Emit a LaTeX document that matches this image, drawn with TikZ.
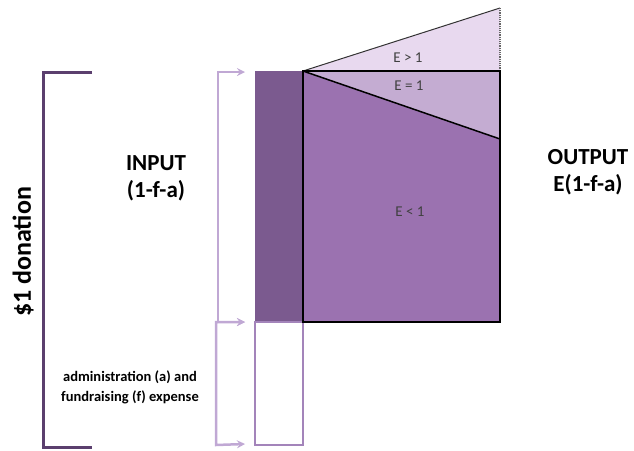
\documentclass[tikz,border=0pt]{standalone}
\usepackage{fontspec}
\setmainfont{Carlito}
\usepackage{xcolor}
\usetikzlibrary{positioning, arrows}

\definecolor{inpurple}{HTML}{7B5A8F}
\definecolor{outpurple}{HTML}{9B72B0}
\definecolor{eqpurple}{HTML}{C4ACD2}
\definecolor{gtpurple}{HTML}{E8D9EF}
\definecolor{bracedark}{HTML}{5B3F6E}
\definecolor{bracelight}{HTML}{C0A8D4}
\definecolor{costline}{HTML}{A384BA}

\tikzset{
  bar/.style={inner sep=0pt, outer sep=0pt, minimum width=48pt},
  bigbrace/.style={draw=bracedark, line width=3pt},
  smallbrace/.style={draw=bracelight, line width=2.5pt, <->},
  heading/.style={font=\bfseries\fontsize{23}{25}\selectfont},
  elabel/.style={text=black!75, font=\fontsize{15}{17}\selectfont}
}

\begin{document}
\begin{tikzpicture}[x=1pt, y=-1pt, >=stealth, node distance=3pt]
    \useasboundingbox (0,0) rectangle (634,450);

    % bars on the input side
    \node[bar, fill=inpurple, minimum height=251pt, anchor=north west] (inbar) at (255,71) {};
    \node[bar, draw=costline, line width=1.5pt, minimum height=123pt, below=0pt of inbar] (costbar) {};

    % output regions
    \coordinate (apex) at (inbar.north east);
    \coordinate (topright) at (500,8);
    \coordinate (midright) at (500,71);
    \coordinate (lowright) at (500,139);
    \coordinate (botright) at (500,322);
    \fill[gtpurple] (apex) -- (topright) -- (midright) -- cycle;
    \fill[eqpurple] (apex) -- (midright) -- (lowright) -- cycle;
    \fill[outpurple] (apex) -- (lowright) -- (botright) -- (inbar.south east) -- cycle;
    \draw[black!80, line width=1pt] (apex) -- (topright);
    \draw[black!60, line width=1.2pt, densely dotted] (topright) -- (midright);
    \draw[line width=1.5pt] (apex) -- (midright) -- (botright) -- (inbar.south east) -- cycle;
    \draw[line width=1.5pt] (apex) -- (lowright);

    \node[elabel] (egt) at (408,58) {E > 1};
    \node[elabel] (eeq) at (409,86) {E = 1};
    \node[elabel] (elt) at (410,212) {E < 1};

    % brackets
    \coordinate (bigtop) at (92,72);
    \coordinate (bigbot) at (92,447);
    \draw[bigbrace] (bigtop) -| (43,447) -- (bigbot);
    \coordinate (intop) at ([xshift=-10pt,yshift=-1pt]inbar.north west);
    \coordinate (inbot) at ([xshift=-10pt]inbar.south west);
    \coordinate (costbot) at ([xshift=-10pt,yshift=1pt]costbar.south west);
    \draw[smallbrace] (intop) -| (218,322) -- (inbot);
    \draw[smallbrace] (inbot) -| (216,445) -- (costbot);

    % labels
    \node[heading, font=\bfseries\fontsize{26}{28}\selectfont, rotate=90] (donation) at (23,252) {\$1 donation};
    \node[heading] (input) at (156,163) {INPUT};
    \node[heading, below=of input] (inexpr) {(1-f-a)};
    \node[heading] (output) at (588,157) {OUTPUT};
    \node[heading, below=of output] (outexpr) {E(1-f-a)};
    \node[font=\bfseries\fontsize{14.5}{20}\selectfont, align=center] (costs) at (130,387)
        {administration (a) and\\fundraising (f) expense};
\end{tikzpicture}
\end{document}
